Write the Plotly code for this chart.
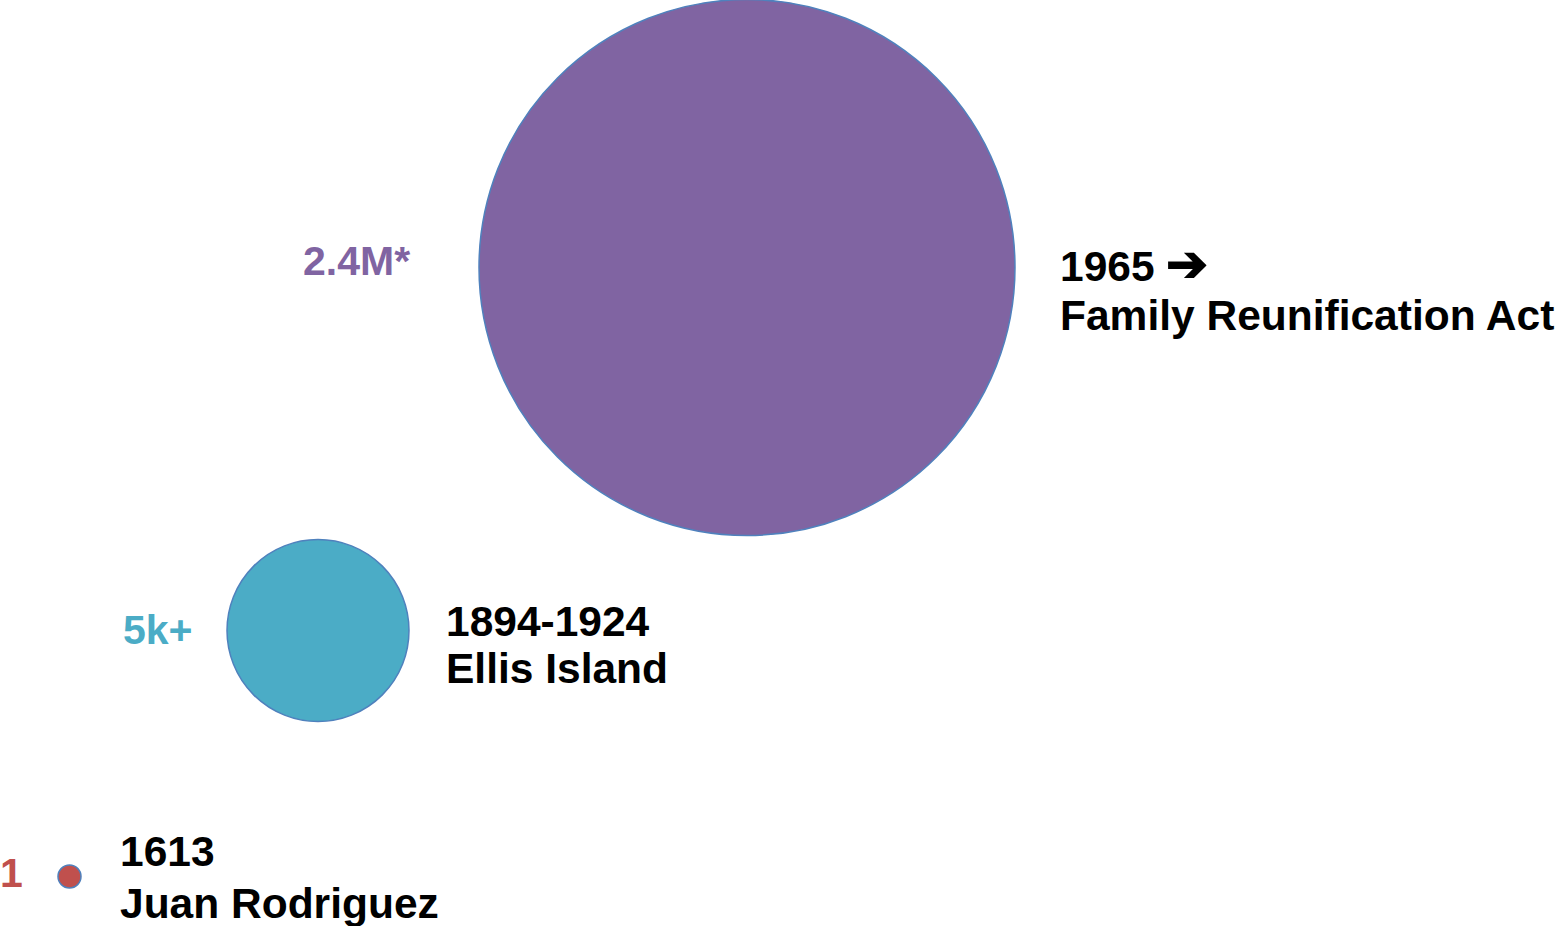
import plotly.graph_objects as go

# dados de cada bolha
anos = ['1613', '1894-1924', '1965']
eventos = ['Juan Rodriguez', 'Ellis Island', 'Family Reunification Act']
valores_texto = ['1', '5k+', '2.4M*']
x_centro = [69.5, 318, 747]
y_centro = [876.5, 630.5, 267.5]
diametros = [23, 182, 536]

cores = ['#C0504D', '#4BACC6', '#8064A2']
cor_borda = '#4F81BD'
fonte = 'Liberation Sans'

# distancias dos textos ate a borda da bolha (layout)
folga_esq = [33, 32, 67]
folga_dir = [37, 35, 43]
desl_valor = [-4, -1, -7]
desl_linha1 = [-25, -9, -4]
desl_linha2 = [27, 38, 48]

fig = go.Figure()

fig.add_trace(go.Scatter(
    x=x_centro,
    y=y_centro,
    mode='markers',
    marker=dict(size=diametros, sizemode='diameter', sizeref=1,
                color=cores, opacity=1,
                line=dict(color=cor_borda, width=1.5)),
    cliponaxis=False,
    hoverinfo='skip',
    showlegend=False
))

anotacoes = []
for i in range(len(anos)):
    raio = diametros[i] / 2
    texto_ano = '<b>' + anos[i] + '</b>'
    if i == 2:
        texto_ano += ' <span style="font-size:50px"><b>\u2794</b></span>'
    anotacoes.append(dict(
        x=x_centro[i] - raio - folga_esq[i], y=y_centro[i] + desl_valor[i],
        text='<b>' + valores_texto[i] + '</b>', showarrow=False,
        xanchor='right', yanchor='middle',
        font=dict(family=fonte, size=41, color=cores[i])
    ))
    anotacoes.append(dict(
        x=x_centro[i] + raio + folga_dir[i], y=y_centro[i] + desl_linha1[i],
        text=texto_ano, showarrow=False,
        xanchor='left', yanchor='middle',
        font=dict(family=fonte, size=42.5, color='black')
    ))
    anotacoes.append(dict(
        x=x_centro[i] + raio + folga_dir[i], y=y_centro[i] + desl_linha2[i],
        text='<b>' + eventos[i] + '</b>', showarrow=False,
        xanchor='left', yanchor='middle',
        font=dict(family=fonte, size=42.5, color='black')
    ))

fig.update_layout(
    width=1562, height=926,
    margin=dict(l=0, r=0, t=0, b=0),
    paper_bgcolor='white', plot_bgcolor='white',
    xaxis=dict(range=[0, 1562], visible=False, fixedrange=True),
    yaxis=dict(range=[926, 0], visible=False, fixedrange=True),
    annotations=anotacoes
)

# tira a margem padrao do body para o grafico ocupar a janela toda
fig.write_html("out.html", config={'displayModeBar': False},
               post_script="document.body.style.margin='0';")
